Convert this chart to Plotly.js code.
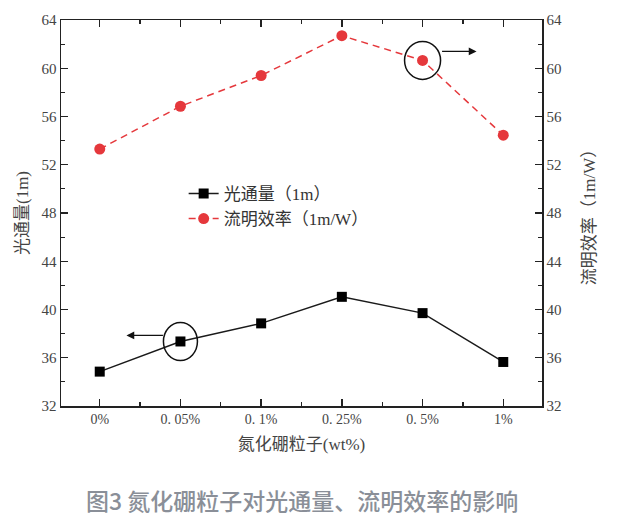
<!DOCTYPE html>
<html>
<head>
<meta charset="utf-8">
<script src="https://cdn.plot.ly/plotly-3.0.1.min.js"></script>
<style>html,body{margin:0;padding:0;background:#fff;}#chart{width:617px;height:525px;}</style>
</head>
<body>
<div id="chart"></div>
<script>
const categories = ["0%", "0. 05%", "0. 1%", "0. 25%", "0. 5%", "1%"];
const luminousFlux = [34.85, 37.35, 38.85, 41.05, 39.7, 35.65];
const luminousEfficacy = [53.3, 56.85, 59.4, 62.7, 60.65, 54.45];
const yTicks = [32, 36, 40, 44, 48, 52, 56, 60, 64];
const fluxName = "光通量（1m）";
const effName = "流明效率（1m/W）";
const xTitle = "氮化硼粒子(wt%)";
const yTitleLeft = "光通量(1m)";
const yTitleRight = "流明效率（1m/W）";
const caption = "图3 氮化硼粒子对光通量、流明效率的影响";

const xIdx = categories.map((_, i) => i);
const serif = "Liberation Serif, DejaVu Serif, Noto Sans CJK SC, serif";

const traces = [
  {
    x: xIdx, y: luminousFlux, name: fluxName, type: "scatter", mode: "lines+markers",
    line: {color: "#1a1a1a", width: 1.5},
    marker: {symbol: "square", size: 10, color: "#000"},
    yaxis: "y"
  },
  {
    x: xIdx, y: luminousEfficacy, name: effName, type: "scatter", mode: "lines+markers",
    line: {color: "#e5383c", width: 1.5, dash: "7px,5px"},
    marker: {symbol: "circle", size: 11, color: "#e5383c"},
    yaxis: "y2"
  }
];

const minorX = xIdx.slice(0, -1).map(i => i + 0.5);

const layout = {
  width: 617, height: 525,
  margin: {l: 61, r: 75, t: 20, b: 119},
  paper_bgcolor: "#fff", plot_bgcolor: "#fff",
  showlegend: true,
  legend: {
    x: 0.255, y: 0.517, xanchor: "left", yanchor: "middle",
    bgcolor: "rgba(0,0,0,0)", borderwidth: 0,
    font: {family: serif, size: 17, color: "#333"},
    tracegroupgap: 0, itemwidth: 30
  },
  xaxis: {
    range: [-0.48, 5.48],
    tickmode: "array", tickvals: xIdx, ticktext: categories,
    showgrid: false, zeroline: false,
    showline: true, linecolor: "#222", linewidth: 1.5, mirror: "ticks",
    ticks: "inside", ticklen: 7, tickwidth: 1.3, tickcolor: "#222",
    minor: {tickmode: "array", tickvals: minorX, ticks: "inside", ticklen: 4, tickwidth: 1.2, tickcolor: "#222", showgrid: false},
    tickfont: {family: serif, size: 14, color: "#444"},
    title: {text: xTitle, font: {family: serif, size: 17, color: "#444"}, standoff: 12}
  },
  yaxis: {
    range: [32, 64],
    tickmode: "array", tickvals: yTicks,
    showgrid: false, zeroline: false,
    showline: true, linecolor: "#222", linewidth: 1.5, mirror: false,
    ticks: "inside", ticklen: 7, tickwidth: 1.3, tickcolor: "#222",
    minor: {dtick: 2, tick0: 32, ticks: "inside", ticklen: 4, tickwidth: 1.2, tickcolor: "#222", showgrid: false},
    tickfont: {family: serif, size: 15, color: "#444"},
    title: {text: yTitleLeft, font: {family: serif, size: 17, color: "#444"}, standoff: 8}
  },
  yaxis2: {
    range: [32, 64], overlaying: "y", side: "right",
    tickmode: "array", tickvals: yTicks,
    showgrid: false, zeroline: false,
    showline: true, linecolor: "#222", linewidth: 1.5,
    ticks: "inside", ticklen: 7, tickwidth: 1.3, tickcolor: "#222",
    minor: {dtick: 2, tick0: 32, ticks: "inside", ticklen: 4, tickwidth: 1.2, tickcolor: "#222", showgrid: false},
    tickfont: {family: serif, size: 15, color: "#444"},
    title: {text: yTitleRight, font: {family: serif, size: 17, color: "#444"}, standoff: 22}
  },
  shapes: [
    {type: "circle", xref: "x", yref: "y", xsizemode: "pixel", ysizemode: "pixel",
     xanchor: xIdx[1], yanchor: luminousFlux[1], x0: -17, x1: 17, y0: -19, y1: 19,
     line: {color: "#111", width: 1.5}},
    {type: "circle", xref: "x", yref: "y2", xsizemode: "pixel", ysizemode: "pixel",
     xanchor: xIdx[4], yanchor: luminousEfficacy[4], x0: -18, x1: 18, y0: -19, y1: 19,
     line: {color: "#111", width: 1.5}}
  ],
  annotations: [
    {xref: "x", yref: "y", x: xIdx[1], y: luminousFlux[1], xshift: -54, yshift: 6,
     text: "", showarrow: true, arrowhead: 2, arrowsize: 1.2, arrowwidth: 1.3, arrowcolor: "#111",
     ax: 38, ay: 0, standoff: 0, startstandoff: 0},
    {xref: "x", yref: "y2", x: xIdx[4], y: luminousEfficacy[4], xshift: 54, yshift: 9,
     text: "", showarrow: true, arrowhead: 2, arrowsize: 1.2, arrowwidth: 1.3, arrowcolor: "#111",
     ax: -36, ay: 0, standoff: 0, startstandoff: 0},
    {xref: "paper", yref: "paper", x: 0.5, y: -0.2435, xanchor: "center", yanchor: "middle",
     xshift: 0, text: caption, showarrow: false,
     font: {family: "Noto Sans CJK SC, sans-serif", size: 23, color: "#8a8f98", weight: 500}}
  ]
};

Plotly.newPlot("chart", traces, layout, {displayModeBar: false, staticPlot: true});
</script>
</body>
</html>
